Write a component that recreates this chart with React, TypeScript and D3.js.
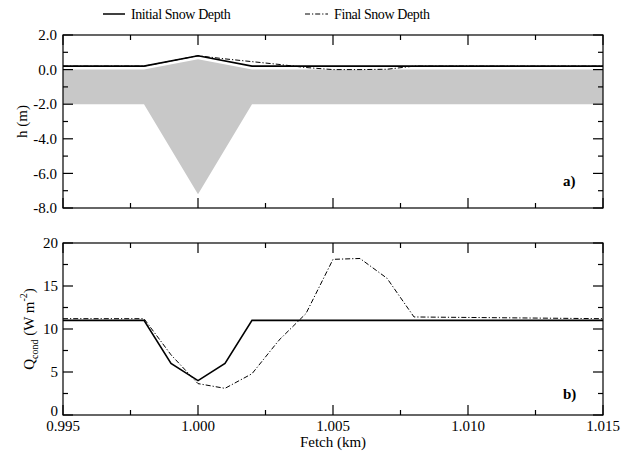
import React from "react";
import * as d3 from "d3";

// Fetch positions (km) and profiles
const iceX = [0.995, 0.998, 1.0, 1.002, 1.015];
const iceTop = [0, 0, 0.6, 0, 0];
const iceBottom = [-2, -2, -7.2, -2, -2];

const initialHX = [0.995, 0.998, 1.0, 1.002, 1.015];
const initialH = [0.2, 0.2, 0.8, 0.2, 0.2];

const finalHX = [0.995, 0.998, 1.0, 1.001, 1.002, 1.003, 1.004, 1.005, 1.006, 1.007, 1.008, 1.015];
const finalH = [0.2, 0.2, 0.8, 0.62, 0.46, 0.3, 0.12, 0.0, 0.0, 0.02, 0.2, 0.2];

const initialQX = [0.995, 0.998, 0.999, 1.0, 1.001, 1.002, 1.015];
const initialQ = [11, 11, 6, 4, 6, 11, 11];

const finalQX = [0.995, 0.998, 0.999, 1.0, 1.001, 1.002, 1.003, 1.004, 1.005, 1.006, 1.007, 1.008, 1.015];
const finalQ = [11.2, 11.2, 7.0, 3.65, 3.1, 4.8, 8.7, 11.8, 18.1, 18.2, 15.9, 11.4, 11.2];

const xTickValues = [0.995, 1.0, 1.005, 1.01, 1.015];
const xTickLabels = ["0.995", "1.000", "1.005", "1.010", "1.015"];
const hTickValues = [2, 0, -2, -4, -6, -8];
const hTickLabels = ["2.0", "0.0", "-2.0", "-4.0", "-6.0", "-8.0"];
const qTickValues = [0, 5, 10, 15, 20];
const qTickLabels = ["0", "5", "10", "15", "20"];

const W = 627;
const H = 451;
const left = 63;
const right = 603;
const topA = 35;
const bottomA = 208;
const topB = 243;
const bottomB = 415;

const FONT = "Liberation Serif, Times New Roman, serif";
const DASHDOT = "5,2,1.2,2";

const x = d3.scaleLinear().domain([0.995, 1.015]).range([left, right]);
const yA = d3.scaleLinear().domain([-8, 2]).range([bottomA, topA]);
const yB = d3.scaleLinear().domain([0, 20]).range([bottomB, topB]);

const xMinor = d3.range(0, 9).map((i) => 0.995 + i * 0.0025);

const T = (props: any) => (
  <text
    {...props}
    style={{ fontFamily: FONT, fontSize: props.fs || 15, fontWeight: props.fw || "normal", letterSpacing: props.ls || 0 }}
  />
);

function Frame({ y, top, bottom, major, minor }: any) {
  const tk: any[] = [];
  xMinor.forEach((v, i) => {
    const isMajor = i % 2 === 0;
    const len = isMajor ? 10 : 5;
    const px = x(v);
    tk.push(<line key={"xb" + i} x1={px} x2={px} y1={bottom} y2={bottom - len} />);
    tk.push(<line key={"xt" + i} x1={px} x2={px} y1={top} y2={top + len} />);
  });
  major.forEach((v: number, i: number) => {
    const py = y(v);
    tk.push(<line key={"yl" + i} x1={left} x2={left + 10} y1={py} y2={py} />);
    tk.push(<line key={"yr" + i} x1={right} x2={right - 10} y1={py} y2={py} />);
  });
  minor.forEach((v: number, i: number) => {
    const py = y(v);
    tk.push(<line key={"ml" + i} x1={left} x2={left + 5} y1={py} y2={py} />);
    tk.push(<line key={"mr" + i} x1={right} x2={right - 5} y1={py} y2={py} />);
  });
  return (
    <g stroke="#000" strokeWidth={1.2}>
      {tk}
      <rect x={left} y={top} width={right - left} height={bottom - top} fill="none" />
    </g>
  );
}

export default function App() {
  const pts = (xs: number[], ys: number[]) => xs.map((v, i) => [v, ys[i]] as [number, number]);

  const lineA = d3.line<[number, number]>().x((d) => x(d[0])).y((d) => yA(d[1]));
  const lineB = d3.line<[number, number]>().x((d) => x(d[0])).y((d) => yB(d[1]));
  const iceArea = d3
    .area<number>()
    .x((d, i) => x(iceX[i]))
    .y0((d, i) => yA(iceBottom[i]))
    .y1((d) => yA(d));

  return (
    <svg
      width={W}
      height={H}
      style={{ position: "absolute", left: 0, top: 0, background: "#fff", fontFamily: FONT }}
    >
      {/* legend */}
      <line x1={103} x2={125} y1={14} y2={14} stroke="#000" strokeWidth={1.5} />
      <T x={131} y={19} fs={14} ls={-0.4}>Initial Snow Depth</T>
      <line x1={305} x2={328} y1={14} y2={14} stroke="#000" strokeWidth={1} strokeDasharray={DASHDOT} />
      <T x={334} y={19} fs={14} ls={-0.4}>Final Snow Depth</T>

      {/* panel a: ice cross-section and snow surface */}
      <path d={iceArea(iceTop) || ""} fill="#c8c8c8" />
      <path d={lineA(pts(finalHX, finalH)) || ""} fill="none" stroke="#000" strokeWidth={1} strokeDasharray={DASHDOT} />
      <path d={lineA(pts(initialHX, initialH)) || ""} fill="none" stroke="#000" strokeWidth={1.6} />
      <Frame y={yA} top={topA} bottom={bottomA} major={hTickValues} minor={[1, -1, -3, -5, -7]} />
      {hTickValues.map((v, i) => (
        <T key={"ha" + i} x={57} y={yA(v)} dy="0.35em" textAnchor="end">
          {hTickLabels[i]}
        </T>
      ))}
      <T transform={`translate(27,${(topA + bottomA) / 2}) rotate(-90)`} textAnchor="middle">
        h (m)
      </T>
      <T x={563} y={186} fw="bold">a)</T>

      {/* panel b: conductive heat flux */}
      <path d={lineB(pts(finalQX, finalQ)) || ""} fill="none" stroke="#000" strokeWidth={1} strokeDasharray={DASHDOT} />
      <path d={lineB(pts(initialQX, initialQ)) || ""} fill="none" stroke="#000" strokeWidth={1.6} />
      <Frame y={yB} top={topB} bottom={bottomB} major={qTickValues} minor={[2.5, 7.5, 12.5, 17.5]} />
      {qTickValues.map((v, i) => (
        <T key={"qb" + i} x={58} y={yB(v) - (v === 0 ? 4 : 0)} dy="0.35em" textAnchor="end">
          {qTickLabels[i]}
        </T>
      ))}
      {xTickValues.map((v, i) => (
        <T key={"xl" + i} x={x(v)} y={431} textAnchor="middle">
          {xTickLabels[i]}
        </T>
      ))}
      <T x={(left + right) / 2} y={447} textAnchor="middle">Fetch (km)</T>
      <T transform={`translate(34,${(topB + bottomB) / 2}) rotate(-90)`} textAnchor="middle">
        <tspan>Q</tspan>
        <tspan fontSize={10} dy={4}>cond</tspan>
        <tspan dy={-4}> (W m</tspan>
        <tspan fontSize={10} dy={-7}>-2</tspan>
        <tspan dy={7}>)</tspan>
      </T>
      <T x={563} y={399} fw="bold">b)</T>
    </svg>
  );
}
